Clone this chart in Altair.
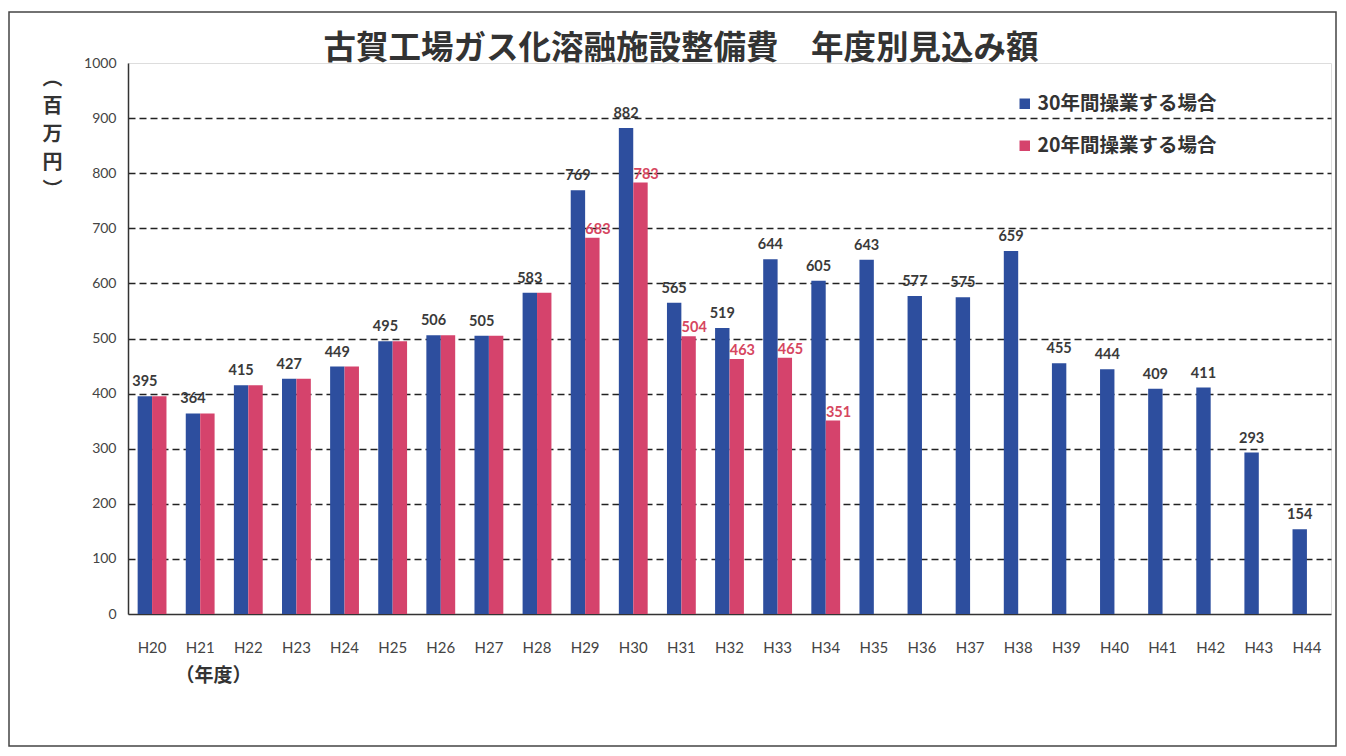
import altair as alt
import pandas as pd

title_text = "古賀工場ガス化溶融施設整備費　年度別見込み額"
years = ["H20", "H21", "H22", "H23", "H24", "H25", "H26", "H27", "H28", "H29",
         "H30", "H31", "H32", "H33", "H34", "H35", "H36", "H37", "H38", "H39",
         "H40", "H41", "H42", "H43", "H44"]
plan30 = [395, 364, 415, 427, 449, 495, 506, 505, 583, 769, 882, 565, 519, 644,
          605, 643, 577, 575, 659, 455, 444, 409, 411, 293, 154]
plan20 = [395, 364, 415, 427, 449, 495, 506, 505, 583, 683, 783, 504, 463, 465, 351]
series = ["30年間操業する場合", "20年間操業する場合"]
y_ticks = [0, 100, 200, 300, 400, 500, 600, 700, 800, 900, 1000]
colors = ["#2D4E9E", "#D5436C"]

rows = []
for i, yr in enumerate(years):
    rows.append({"year": yr, "series": series[0], "value": plan30[i]})
    if i < len(plan20):
        rows.append({"year": yr, "series": series[1], "value": plan20[i]})
df = pd.DataFrame(rows)
blue_df = df[df["series"] == series[0]]
red_lab = pd.DataFrame([
    {"year": years[i], "series": series[1], "value": plan20[i]}
    for i in range(len(plan20)) if plan20[i] != plan30[i]
])

CJK = "Noto Sans CJK JP"
NUM = "Lato"

x_enc = alt.X("year:N", sort=years,
              scale=alt.Scale(paddingInner=0.4, paddingOuter=0.2),
              axis=alt.Axis(title="（年度）", labelAngle=0, ticks=False, domain=True,
                            domainColor="#333", domainWidth=1.5,
                            labelFont=NUM, labelFontSize=15, labelColor="#444",
                            labelPadding=26,
                            titleFont=CJK, titleFontSize=19, titleFontWeight="bold",
                            titleColor="#333", titleX=85, titleY=61,
                            titleAlign="center", titleBaseline="middle"))
xo_enc = alt.XOffset("series:N", sort=series,
                     scale=alt.Scale(domain=series, paddingInner=0, paddingOuter=0))
y_enc = alt.Y("value:Q",
              scale=alt.Scale(domain=[0, 1000], nice=False),
              axis=alt.Axis(values=y_ticks, format="d", grid=True, gridDash=[7, 4],
                            gridColor="#222", gridWidth=1.3,
                            gridOpacity={"condition": {"test": "datum.value <= 0 || datum.value >= 1000",
                                                       "value": 0},
                                         "value": 1},
                            ticks=False,
                            domain=True, domainColor="#333", domainWidth=1.5,
                            labelFont=NUM, labelFontSize=14, labelColor="#444",
                            labelPadding=12,
                            title=["︵", "百", "万", "円", "︶"], titleAngle=0,
                            titleX=-76, titleY=5, titleAlign="center",
                            titleBaseline="top", titleFont=CJK, titleFontSize=20,
                            titleLineHeight=28, titleFontWeight="bold",
                            titleColor="#333"))

frame = alt.Chart(pd.DataFrame({"f": [0]})).mark_rect(
    fill=None, stroke="#444", strokeWidth=1.5, clip=False
).encode(x=alt.value(-119), x2=alt.value(1208), y=alt.value(-51), y2=alt.value(683))

title = alt.Chart(pd.DataFrame({"t": [title_text]})).mark_text(
    font=CJK, fontSize=32.5, fontWeight="bold", color="#333", baseline="middle",
    align="center", clip=False
).encode(x=alt.value(553), y=alt.value(-14), text="t:N")

bars = alt.Chart(df).mark_bar(size=14.4).encode(
    x=x_enc, xOffset=xo_enc, y=y_enc,
    color=alt.Color("series:N", sort=series,
                    scale=alt.Scale(domain=series, range=colors),
                    legend=alt.Legend(title=None, orient="none", legendX=887,
                                      legendY=31, symbolType="square",
                                      symbolSize=110, symbolStrokeWidth=0,
                                      labelFont=CJK, labelFontSize=19.5,
                                      labelFontWeight="bold", labelColor="#333",
                                      labelLimit=400,
                                      rowPadding=21, labelOffset=3))
)

blue_text = alt.Chart(blue_df).mark_text(
    baseline="bottom", dy=-7, font=NUM, fontSize=14.5, fontWeight="bold",
    color="#3a3a3a"
).encode(x=alt.X("year:N", sort=years), xOffset=alt.XOffset("series:N", sort=series),
         y="value:Q", text="value:Q")

red_text = alt.Chart(red_lab).mark_text(
    baseline="bottom", align="left", dx=-7, dy=-1, font=NUM, fontSize=14.5,
    fontWeight="bold", color="#D64660"
).encode(x=alt.X("year:N", sort=years), xOffset=alt.XOffset("series:N", sort=series),
         y="value:Q", text="value:Q")

chart = alt.layer(frame, title, bars, blue_text, red_text).properties(
    width=1203, height=551,
    autosize=alt.AutoSizeParams(type="none"),
    padding={"left": 120, "top": 55, "right": 7, "bottom": 134},
).configure_view(stroke="#333", strokeWidth=1.5).configure(background="white")

chart.save("out.html", embed_options={"renderer": "svg", "actions": False})
